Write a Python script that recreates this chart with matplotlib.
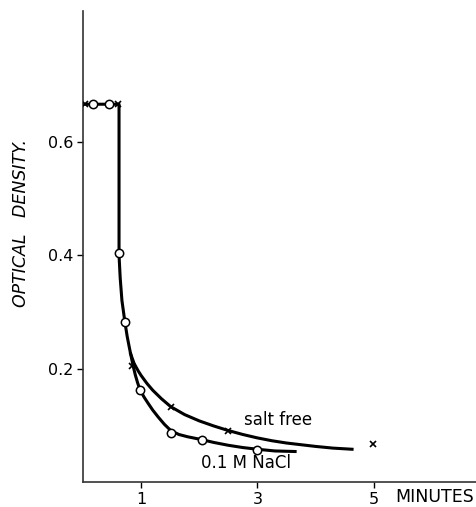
import matplotlib.pyplot as plt

# measured points (minutes, optical density)
nacl_t = [0.17, 0.45, 0.62, 0.72, 0.98, 1.51, 2.04, 3.00]
nacl_od = [0.666, 0.666, 0.404, 0.283, 0.163, 0.086, 0.075, 0.057]

salt_t = [0.03, 0.60, 0.84, 1.51, 2.50, 4.99]
salt_od = [0.666, 0.666, 0.205, 0.132, 0.091, 0.068]

# hand drawn curves
common_t = [0.0, 0.62, 0.62, 0.64, 0.67, 0.72, 0.76, 0.80, 0.82]
common_od = [0.666, 0.666, 0.40, 0.36, 0.32, 0.283, 0.257, 0.236, 0.226]

salt_curve_t = [0.82, 0.88, 0.95, 1.00, 1.10, 1.20, 1.35, 1.51, 1.75, 2.00,
                2.25, 2.50, 2.75, 3.00, 3.25, 3.50, 3.75, 4.00, 4.30, 4.63]
salt_curve_od = [0.226, 0.209, 0.196, 0.188, 0.174, 0.162, 0.147, 0.133, 0.119, 0.108,
                 0.099, 0.091, 0.084, 0.078, 0.073, 0.069, 0.066, 0.063, 0.060, 0.058]

nacl_curve_t = [0.82, 0.86, 0.90, 0.94, 0.98, 1.05, 1.12, 1.20, 1.30, 1.40,
                1.51, 1.65, 1.80, 2.04, 2.25, 2.50, 2.75, 3.00, 3.30, 3.65]
nacl_curve_od = [0.226, 0.206, 0.189, 0.175, 0.163, 0.150, 0.139, 0.127, 0.114, 0.102,
                 0.091, 0.084, 0.080, 0.075, 0.070, 0.065, 0.061, 0.058, 0.055, 0.054]

xticks = [1, 3, 5]
yticks = [0.2, 0.4, 0.6]

fig = plt.figure(figsize=(4.77, 5.07), dpi=100)
ax = fig.add_axes([0.174, 0.049, 0.826, 0.929])

lw = 2.2
ax.plot(common_t, common_od, color='black', lw=lw, solid_capstyle='butt',
        solid_joinstyle='round')
ax.plot(salt_curve_t, salt_curve_od, color='black', lw=lw, solid_joinstyle='round')
ax.plot(nacl_curve_t, nacl_curve_od, color='black', lw=lw, solid_joinstyle='round')

ax.plot(nacl_t, nacl_od, 'o', ms=6, mfc='white', mec='black', mew=1.1, zorder=5)
ax.plot(salt_t, salt_od, 'x', ms=4.5, color='black', mew=1.2, zorder=5)

ax.text(3.36, 0.11, 'salt free', ha='center', va='center', fontsize=12)
ax.text(2.8, 0.034, '0.1 M NaCl', ha='center', va='center', fontsize=12)
ax.text(5.37, -0.027, 'MINUTES', ha='left', va='center', fontsize=12.5, clip_on=False)

ax.set_xlim(0, 6.78)
ax.set_ylim(0, 0.83)
ax.set_xticks(xticks)
ax.set_xticklabels([str(v) for v in xticks])
ax.set_yticks(yticks)
ax.set_yticklabels(['0.2', '0.4', '0.6'])
ax.tick_params(labelsize=11.5, length=4, width=1, pad=3)

for s in ['top', 'right']:
    ax.spines[s].set_visible(False)
for s in ['left', 'bottom']:
    ax.spines[s].set_linewidth(1.2)
    ax.spines[s].set_color('#333333')

fig.text(0.043, 0.56, 'OPTICAL   DENSITY.', rotation=90, fontsize=12.5,
         style='italic', ha='center', va='center')

fig.savefig('out.png', dpi=100)
